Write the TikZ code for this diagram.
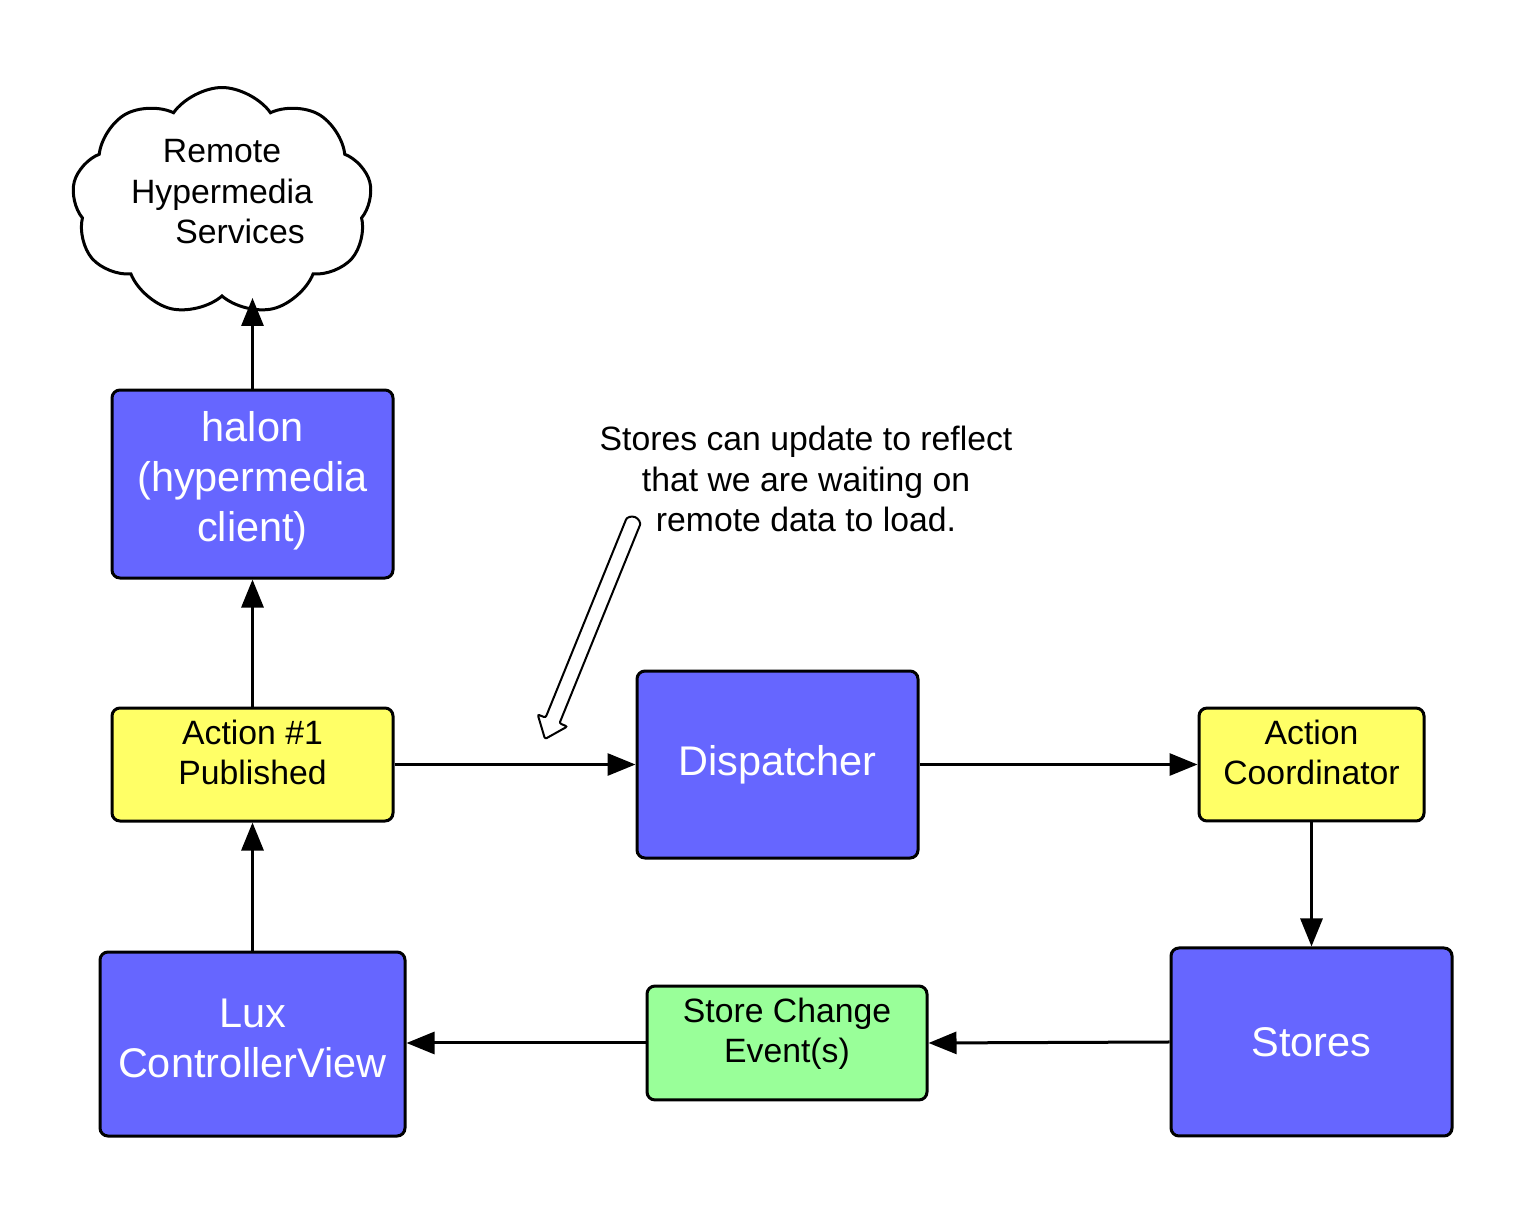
\documentclass[tikz,border=0pt]{standalone}
\usepackage{fontspec}
\setmainfont{Liberation Sans}
\usetikzlibrary{positioning,arrows.meta,shapes.symbols}
\definecolor{boxblue}{RGB}{102,102,255}
\definecolor{boxyellow}{RGB}{255,255,102}
\definecolor{boxgreen}{RGB}{153,255,153}
\tikzstyle{bigbox} = [draw, line width=0.03cm, rounded corners=0.08cm, fill=boxblue, text=white, align=center, font=\fontsize{11.8}{14.2}\selectfont, minimum width=2.81cm, minimum height=1.88cm]
\tikzstyle{smallbox} = [draw, line width=0.03cm, rounded corners=0.08cm, align=center, font=\fontsize{9.6}{11.4}\selectfont, minimum height=1.13cm, text depth=0.25cm]
\tikzstyle{arrow} = [line width=0.03cm, -{Triangle[length=0.28cm,width=0.22cm]}]

\begin{document}
\begin{tikzpicture}
        \useasboundingbox (0,0) rectangle (15.28,12.11);
        %Blocks
        \node [bigbox, minimum width=3.05cm, minimum height=1.84cm, text depth=0.12cm] (lux) at (2.525,1.67) {Lux\\ControllerView};
        \node [smallbox, fill=boxyellow, minimum width=2.81cm, above = 1.28cm of lux] (action) {Action \#1\\Published};
        \node [bigbox, text depth=0.15cm, above = 1.27cm of action] (halon) {halon\\(hypermedia\\client)};
        \node [bigbox, minimum height=1.87cm, right = 2.41cm of action] (dispatcher) {Dispatcher};
        \node [smallbox, fill=boxyellow, minimum width=2.25cm, minimum height=1.12cm, right = 2.78cm of dispatcher] (coordinator) {Action\\Coordinator};
        \node [bigbox, below = 1.24cm of coordinator] (stores) {Stores};
        \node [smallbox, fill=boxgreen, minimum width=2.80cm, minimum height=1.12cm, text depth=0.26cm, left = 2.41cm of stores, yshift=-0.01cm] (change) {Store Change\\Event(s)};
        \node [draw, cloud, cloud puffs=9, cloud puff arc=110, aspect=1.35, line width=0.03cm, minimum width=3.0cm, minimum height=2.28cm, inner sep=0pt, text depth=0.2cm, align=center, font=\fontsize{9.6}{11.6}\selectfont] (remote) at (2.22,10.095) {Remote\\Hypermedia\\\hspace*{0.36cm}Services};
        %Note
        \node [align=center, font=\fontsize{9.6}{11.5}\selectfont] (note) at (8.06,7.32) {Stores can update to reflect\\that we are waiting on\\remote data to load.};
        \begin{scope}[shift={(5.45,4.72)}, rotate=67.9]
            \draw [line width=0.02cm, fill=white, rounded corners=0.02cm] (0,0) -- (0.2,0.16) -- (0.2,0.075) -- (2.32,0.075) arc [start angle=90, end angle=-90, radius=0.075] -- (0.2,-0.075) -- (0.2,-0.16) -- cycle;
        \end{scope}
        %Arrows
        \draw [arrow] (lux) -- (action);
        \draw [arrow] (action) -- (halon);
        \draw [arrow] (halon.north) -- (halon.north |- remote.south);
        \draw [arrow] (action) -- (dispatcher);
        \draw [arrow] (dispatcher) -- (coordinator);
        \draw [arrow] (coordinator) -- (stores);
        \draw [arrow] (stores.west) -- (change.east);
        \draw [arrow] (change.west) -- (lux.east |- change.west);
    \end{tikzpicture}
\end{document}
